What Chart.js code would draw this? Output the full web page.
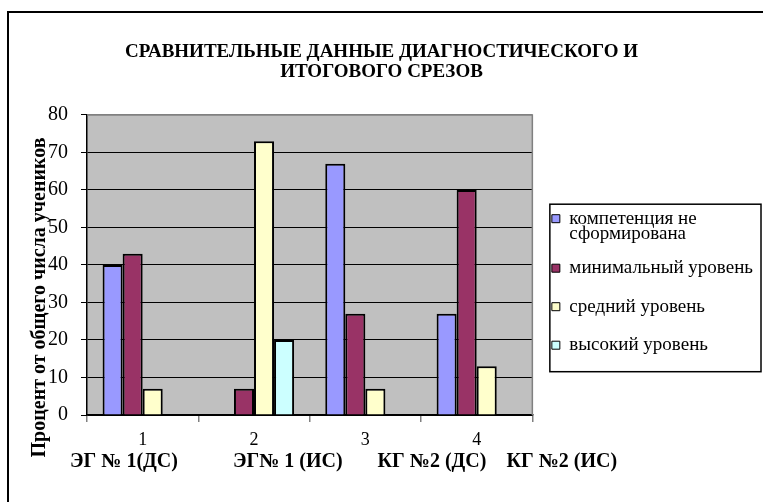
<!DOCTYPE html>
<html lang="ru">
<head>
<meta charset="utf-8">
<title>Сравнительные данные диагностического и итогового срезов</title>
<script src="https://cdn.jsdelivr.net/npm/chart.js@4.4.1/dist/chart.umd.min.js"></script>
<style>
  html, body { margin: 0; padding: 0; background: #fff; overflow: hidden; }
  #wrap { position: relative; width: 763px; height: 502px; }
  /* document frame around the chart */
  #frame { position: absolute; left: 7px; top: 11px; width: 800px; height: 600px; border: 2px solid #000; }
  #chart { position: absolute; left: 0; top: 0; }
</style>
</head>
<body>
<div id="wrap">
  <div id="frame"></div>
  <canvas id="chart" width="763" height="502"></canvas>
</div>
<script>
const groups = ['1', '2', '3', '4'];
const groupNames = ['ЭГ № 1(ДС)', 'ЭГ№ 1 (ИС)', 'КГ №2 (ДС)', 'КГ №2 (ИС)'];
const yTicks = [0, 10, 20, 30, 40, 50, 60, 70, 80];

const notFormed = [40, 0, 67, 27];
const minimal = [43, 7, 27, 60];
const medium = [7, 73, 7, 13];
const high = [0, 20, 0, 0];

const serif = "'Liberation Serif', 'Times New Roman', serif";
Chart.defaults.font.family = serif;
Chart.defaults.color = '#000';

// grey plot area, its outer edge and the box round the legend
const plotFrame = {
  id: 'plotFrame',
  beforeDraw(chart) {
    const { ctx, chartArea: a } = chart;
    ctx.save();
    ctx.fillStyle = '#c0c0c0';
    ctx.fillRect(a.left, a.top, a.right - a.left, a.bottom - a.top);
    ctx.restore();
  },
  afterDraw(chart) {
    const { ctx, chartArea: a, legend } = chart;
    ctx.save();
    ctx.strokeStyle = '#808080';
    ctx.lineWidth = 1.5;
    ctx.beginPath();
    ctx.moveTo(a.left, a.top);
    ctx.lineTo(a.right, a.top);
    ctx.lineTo(a.right, a.bottom);
    ctx.stroke();

    const boxes = legend.legendHitBoxes;
    const pad = legend.options.labels.padding;
    const first = boxes[0], last = boxes[boxes.length - 1];
    const x = legend.left + pad - 2;
    const y = first.top - 5;
    ctx.strokeStyle = '#000';
    ctx.lineWidth = 1.5;
    ctx.strokeRect(x, y, chart.width - 2 - x, last.top + last.height + 17 - y);
    ctx.restore();
  }
};

const spaces = n => ' '.repeat(n);

new Chart(document.getElementById('chart'), {
  type: 'bar',
  data: {
    labels: groups,
    datasets: [
      { label: ['компетенция не', 'сформирована'], data: notFormed, backgroundColor: '#9999ff' },
      { label: 'минимальный уровень', data: minimal, backgroundColor: '#993366' },
      { label: 'средний уровень', data: medium, backgroundColor: '#ffffcc' },
      { label: 'высокий уровень', data: high, backgroundColor: '#ccffff' }
    ].map(d => Object.assign(d, { borderColor: '#000', borderWidth: 2 }))
  },
  options: {
    responsive: false,
    animation: false,
    layout: { padding: 0 },
    datasets: {
      bar: { categoryPercentage: 0.72, barPercentage: 1.0 }
    },
    scales: {
      x: {
        afterFit: scale => { scale.height = 36; },
        grid: { drawOnChartArea: false, tickLength: 7, tickColor: '#808080', lineWidth: 1.5 },
        border: { color: '#000', width: 1.5 },
        ticks: { color: '#000', padding: 7, font: { family: serif, size: 18 } }
      },
      y: {
        min: 0,
        max: 80,
        afterFit: scale => { scale.width = 87; },
        afterBuildTicks: scale => { scale.ticks = yTicks.map(v => ({ value: v })); },
        grid: {
          color: c => (c.tick && c.tick.value === 80 ? '#808080' : '#000'),
          tickColor: '#000',
          tickLength: 6,
          lineWidth: 1
        },
        border: { color: '#000', width: 1.5 },
        ticks: { color: '#000', padding: 13, font: { family: serif, size: 20 } },
        title: {
          display: true,
          text: 'Процент от общего числа учеников' + spaces(13),
          color: '#000',
          padding: { top: 30, bottom: 0 },
          font: { family: serif, size: 20, weight: 'bold', lineHeight: 1 }
        }
      }
    },
    plugins: {
      tooltip: { enabled: false },
      title: {
        display: true,
        text: ['СРАВНИТЕЛЬНЫЕ ДАННЫЕ ДИАГНОСТИЧЕСКОГО И', 'ИТОГОВОГО СРЕЗОВ'],
        color: '#000',
        padding: { top: 42, bottom: 33 },
        font: { family: serif, size: 19, weight: 'bold', lineHeight: 1.05 }
      },
      // group names row under the category numbers
      subtitle: {
        display: true,
        position: 'bottom',
        align: 'start',
        text: spaces(14) + groupNames[0] + spaces(11) + groupNames[1] + spaces(7) + groupNames[2] + spaces(4) + groupNames[3],
        color: '#000',
        padding: { top: 1, bottom: 30 },
        font: { family: serif, size: 20, weight: 'bold', lineHeight: 1 }
      },
      legend: {
        position: 'right',
        fullSize: false,
        maxWidth: 231,
        align: 'center',
        title: { display: true, text: '', padding: 0, font: { size: 34, lineHeight: 1 } },
        labels: {
          color: '#000',
          boxWidth: 8,
          boxHeight: 8,
          padding: 19.5,
          font: { family: serif, size: 19, lineHeight: '15px' },
          generateLabels: chart => Chart.defaults.plugins.legend.labels.generateLabels(chart)
            .map(item => Object.assign(item, { lineWidth: 1 }))
        }
      }
    }
  },
  plugins: [plotFrame]
});
</script>
</body>
</html>
